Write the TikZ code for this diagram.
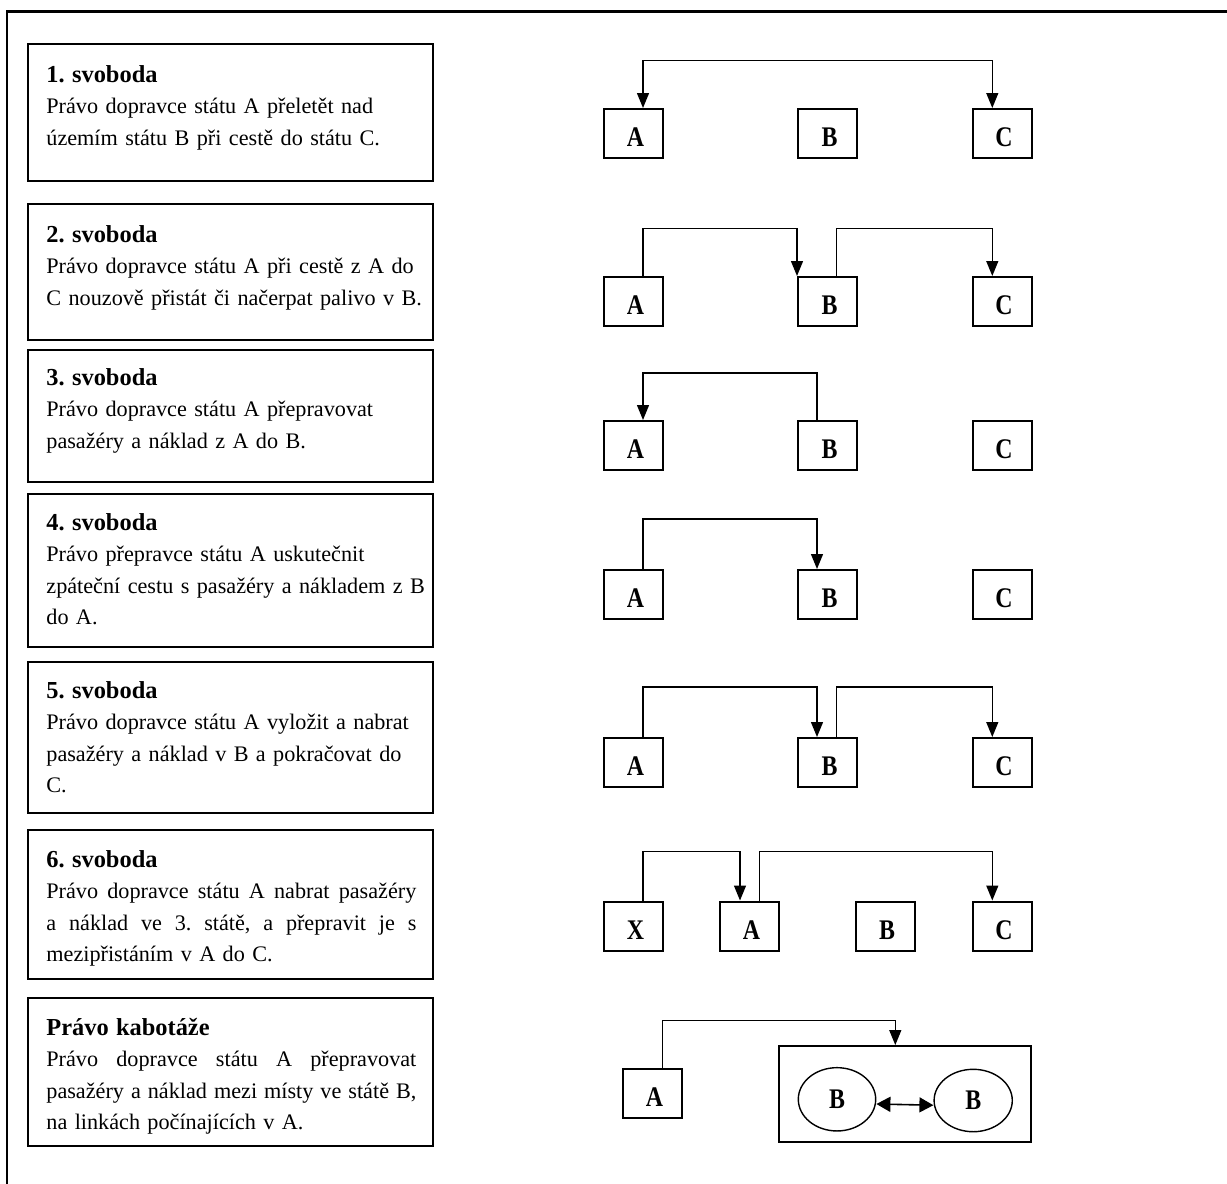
\documentclass[tikz,border=0pt]{standalone}
\usepackage{fontspec}
\setmainfont{Liberation Serif}
\usepackage{graphicx}
\usetikzlibrary{arrows.meta,shapes.geometric}
\hfuzz=2pt
\hbadness=10000
\frenchspacing

% fonts: body text, box headings, narrow bold state letters
\newcommand\bodyfont{\fontsize{11.1pt}{15.75pt}\selectfont\frenchspacing}
\newcommand\headfont{\fontsize{12.2pt}{15.75pt}\selectfont\bfseries}
\newcommand\stlab[1]{\scalebox{0.84}[1]{#1}}
% a fully justified line: interword spaces stretch to fill the width
\newcommand\jline[1]{\leavevmode\hbox to 185pt{\spaceskip=\fontdimen2\font plus 1fil\relax #1}}

\tikzset{
  panel/.style={draw, line width=1pt, minimum width=202.5pt, inner sep=0pt},
  desc/.style={anchor=base west, inner sep=0pt, text width=200pt, align=left, font=\bodyfont},
  state/.style={draw, line width=1pt, minimum width=29.5pt, minimum height=24.5pt,
    inner sep=0pt, text height=13.3pt, text depth=0pt,
    font=\fontsize{14.2pt}{15pt}\selectfont\bfseries},
  land/.style={draw, ellipse, line width=0.7pt, inner sep=0pt,
    font=\fontsize{14.2pt}{15pt}\selectfont\bfseries},
  region/.style={draw, line width=1pt, inner sep=0pt},
  route/.style={line width=0.65pt},
  >={Triangle[width=6pt,length=7.5pt]}
}

\begin{document}
\begin{tikzpicture}[x=0.5pt, y=-0.5pt]
\useasboundingbox (0,0) rectangle (1227,1184);

% outer frame (left and top edges)
\draw[line width=1.2pt] (7,1200) -- (7,11.5) -- (1240,11.5);

% description panels
\node[panel, minimum height=68.5pt] (f1) at (230.5,112.5) {};
\node[panel, minimum height=68pt]   (f2) at (230.5,272) {};
\node[panel, minimum height=66pt]   (f3) at (230.5,416) {};
\node[panel, minimum height=76.5pt] (f4) at (230.5,570.5) {};
\node[panel, minimum height=75.5pt] (f5) at (230.5,737.5) {};
\node[panel, minimum height=74.5pt] (f6) at (230.5,904.5) {};
\node[panel, minimum height=74pt]   (f7) at (230.5,1072) {};

\node[desc] (t1) at (46,82) {{\headfont 1. svoboda}\\
  Právo dopravce státu A přeletět nad\\
  územím státu B při cestě do státu C.};
\node[desc] (t2) at (46,242) {{\headfont 2. svoboda}\\
  Právo dopravce státu A při cestě z A do\\
  C nouzově přistát či načerpat palivo v B.};
\node[desc] (t3) at (46,385) {{\headfont 3. svoboda}\\
  Právo dopravce státu A přepravovat\\
  pasažéry a náklad z A do B.};
\node[desc] (t4) at (46,530) {{\headfont 4. svoboda}\\
  Právo přepravce státu A uskutečnit\\
  zpáteční cestu s pasažéry a nákladem z B\\
  do A.};
\node[desc] (t5) at (46,698) {{\headfont 5. svoboda}\\
  Právo dopravce státu A vyložit a nabrat\\
  pasažéry a náklad v B a pokračovat do\\
  C.};
\node[desc] (t6) at (46,867) {{\headfont 6. svoboda}\\
  \jline{Právo dopravce státu A nabrat pasažéry}\\
  \jline{a náklad ve 3. státě, a přepravit je s}\\
  mezipřistáním v A do C.};
\node[desc] (t7) at (46,1035) {{\headfont Právo kabotáže}\\
  \jline{Právo dopravce státu A přepravovat}\\
  \jline{pasažéry a náklad mezi místy ve státě B,}\\
  na linkách počínajících v A.};

% 1st freedom
\node[state] (a1) at (633.5,133.5) {\hspace*{2pt}\stlab{A}};
\node[state] (b1) at (827.5,133.5) {\hspace*{2pt}\stlab{B}};
\node[state] (c1) at (1002,133.5)  {\hspace*{2pt}\stlab{C}};
\draw[route,<->] ([xshift=4.75pt]a1.north) -- ++(0,-47.7) -| ([xshift=-4.85pt]c1.north);

% 2nd freedom
\node[state] (a2) at (633.5,301.5) {\hspace*{2pt}\stlab{A}};
\node[state] (b2) at (827.5,301.5) {\hspace*{2pt}\stlab{B}};
\node[state] (c2) at (1002,301.5)  {\hspace*{2pt}\stlab{C}};
\draw[route,->] ([xshift=4.75pt]a2.north) -- ++(0,-47.4) -| (b2.north west);
\draw[route,->] ([xshift=4.6pt]b2.north) -- ++(0,-47.4) -| ([xshift=-4.85pt]c2.north);

% 3rd freedom
\node[state] (a3) at (633.5,445.5) {\hspace*{2pt}\stlab{A}};
\node[state] (b3) at (827.5,445.5) {\hspace*{2pt}\stlab{B}};
\node[state] (c3) at (1002,445.5)  {\hspace*{2pt}\stlab{C}};
\draw[route,->] ([xshift=-5.25pt]b3.north) -- ++(0,-47) -| ([xshift=4.75pt]a3.north);

% 4th freedom
\node[state] (a4) at (633.5,594.5) {\hspace*{2pt}\stlab{A}};
\node[state] (b4) at (827.5,594.5) {\hspace*{2pt}\stlab{B}};
\node[state] (c4) at (1002,594.5)  {\hspace*{2pt}\stlab{C}};
\draw[route,->] ([xshift=4.75pt]a4.north) -- ++(0,-50) -| ([xshift=-5.25pt]b4.north);

% 5th freedom
\node[state] (a5) at (633.5,762.5) {\hspace*{2pt}\stlab{A}};
\node[state] (b5) at (827.5,762.5) {\hspace*{2pt}\stlab{B}};
\node[state] (c5) at (1002,762.5)  {\hspace*{2pt}\stlab{C}};
\draw[route,->] ([xshift=4.75pt]a5.north) -- ++(0,-50) -| ([xshift=-5.25pt]b5.north);
\draw[route,->] ([xshift=4.6pt]b5.north) -- ++(0,-50) -| ([xshift=-4.85pt]c5.north);

% 6th freedom
\node[state] (x6) at (633.5,926) {\hspace*{2pt}\stlab{X}};
\node[state] (a6) at (749.5,926) {\hspace*{2pt}\stlab{A}};
\node[state] (b6) at (885,926)   {\hspace*{2pt}\stlab{B}};
\node[state] (c6) at (1002,926)  {\hspace*{2pt}\stlab{C}};
\draw[route,->] ([xshift=4.75pt]x6.north) -- ++(0,-48.7) -| ([xshift=-4.75pt]a6.north);
\draw[route,->] ([xshift=4.9pt]a6.north) -- ++(0,-48.7) -| ([xshift=-4.85pt]c6.north);

% cabotage
\node[state] (a7) at (652.5,1093.5) {\hspace*{2pt}\stlab{A}};
\node[region, minimum width=126pt, minimum height=48.15pt] (grp) at (905,1094.2) {};
\node[land, minimum width=38.7pt, minimum height=31.65pt] (e1) at (837,1099.3) {\stlab{B}};
\node[land, minimum width=39.1pt, minimum height=31.2pt] (e2) at (973.2,1100.5) {\stlab{B}};
\draw[route,->] ([xshift=5.1pt]a7.north) -- ++(0,-47.3) -| ([xshift=-4.85pt]grp.north);
\draw[route,line width=0.8pt,{Triangle[width=7.5pt,length=7pt]}-{Triangle[width=7.5pt,length=7pt]}]
  ([yshift=-2.35pt]e1.east) -- ([yshift=-2.35pt]e2.west);
\end{tikzpicture}
\end{document}
